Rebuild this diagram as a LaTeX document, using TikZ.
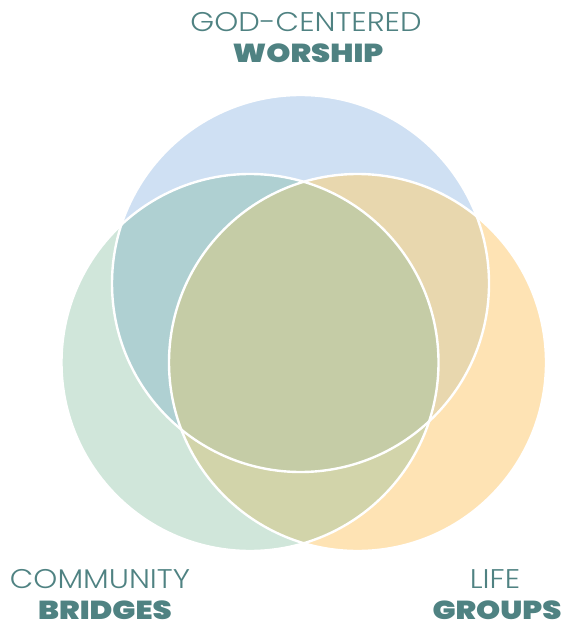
\documentclass[tikz,border=0pt]{standalone}
\usepackage{fontspec}
\newfontfamily\lightfont[FakeStretch=1.13]{Poppins Light}
\newfontfamily\heavyfont[FakeStretch=1.18]{Poppins Black}
\definecolor{blueset}{HTML}{CFE0F3}
\definecolor{greenset}{HTML}{D0E6DA}
\definecolor{orangeset}{HTML}{FEE3B4}
\definecolor{tealpart}{HTML}{AFD0D2}
\definecolor{tanpart}{HTML}{E8D7AE}
\definecolor{olivepart}{HTML}{D2D4AA}
\definecolor{corepart}{HTML}{C5CCA6}
\definecolor{labelcol}{HTML}{4F8282}
\begin{document}
\begin{tikzpicture}[x=0.5pt, y=-0.5pt, line join=round, line cap=round,
  thin label/.style={font=\lightfont\fontsize{13.5}{15}\selectfont, text=labelcol, anchor=base, inner sep=0pt},
  bold label/.style={font=\heavyfont\fontsize{13}{15}\selectfont, text=labelcol, anchor=base, inner sep=0pt},
  rim/.style={draw=white, line width=1.2pt}]
	\useasboundingbox (0,0) rectangle (574,624);
	\path
	(300.5,283.5) coordinate (T)
	(250,362.5) coordinate (L)
	(357.5,362.5) coordinate (R)
	;
	\def\rad{188.5}
	% single sets
	\fill[blueset] (T) circle (\rad);
	\fill[greenset] (L) circle (\rad);
	\fill[orangeset] (R) circle (\rad);
	% pairs
	\begin{scope}
		\clip (T) circle (\rad);
		\fill[tealpart] (L) circle (\rad);
		\fill[tanpart] (R) circle (\rad);
	\end{scope}
	\begin{scope}
		\clip (L) circle (\rad);
		\fill[olivepart] (R) circle (\rad);
	\end{scope}
	% all three
	\begin{scope}
		\clip (T) circle (\rad);
		\clip (L) circle (\rad);
		\fill[corepart] (R) circle (\rad);
	\end{scope}
	\foreach \c in {T,L,R}
	\draw[rim] (\c) circle (\rad);
	% labels
	\node[thin label] (godcentered) at (306,32) {GOD-CENTERED};
	\node[bold label] (worship) at (308,63) {WORSHIP};
	\node[thin label] (community) at (100,588) {COMMUNITY};
	\node[bold label] (bridges) at (105,619) {BRIDGES};
	\node[thin label] (life) at (495,588) {LIFE};
	\node[bold label] (groups) at (497,619) {GROUPS};
\end{tikzpicture}
\end{document}
